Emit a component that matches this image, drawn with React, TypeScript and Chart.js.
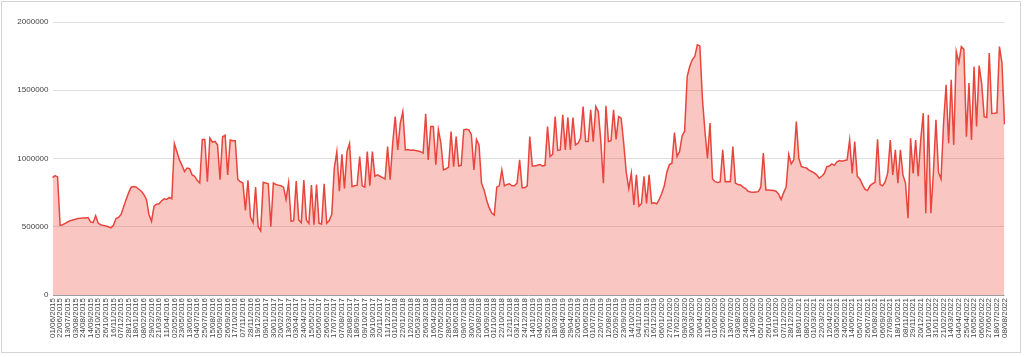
import React, { useEffect, useRef } from "react";
import { Chart, registerables } from "chart.js";

Chart.register(...registerables);

// Tick labels shown on the x axis (every 3rd weekly point)
const tickLabels: string[] = [
  "01/06/2015", "22/06/2015", "13/07/2015", "03/08/2015", "24/08/2015", "14/09/2015", "05/10/2015", "26/10/2015", "16/11/2015", "07/12/2015",
  "28/12/2015", "18/01/2016", "08/02/2016", "29/02/2016", "21/03/2016", "11/04/2016", "02/05/2016", "23/05/2016", "13/06/2016", "04/07/2016",
  "25/07/2016", "15/08/2016", "05/09/2016", "26/09/2016", "17/10/2016", "07/11/2016", "28/11/2016", "19/12/2016", "09/01/2017", "30/01/2017",
  "20/02/2017", "13/03/2017", "03/04/2017", "24/04/2017", "15/05/2017", "05/06/2017", "26/06/2017", "17/07/2017", "07/08/2017", "28/08/2017",
  "18/09/2017", "09/10/2017", "30/10/2017", "20/11/2017", "11/12/2017", "01/01/2018", "22/01/2018", "12/02/2018", "05/03/2018", "26/03/2018",
  "16/04/2018", "07/05/2018", "28/05/2018", "18/06/2018", "09/07/2018", "30/07/2018", "20/08/2018", "10/09/2018", "01/10/2018", "22/10/2018",
  "12/11/2018", "03/12/2018", "24/12/2018", "14/01/2019", "04/02/2019", "25/02/2019", "18/03/2019", "08/04/2019", "29/04/2019", "20/05/2019",
  "10/06/2019", "01/07/2019", "22/07/2019", "12/08/2019", "02/09/2019", "23/09/2019", "14/10/2019", "04/11/2019", "25/11/2019", "16/12/2019",
  "06/01/2020", "27/01/2020", "17/02/2020", "09/03/2020", "30/03/2020", "20/04/2020", "11/05/2020", "01/06/2020", "22/06/2020", "13/07/2020",
  "03/08/2020", "24/08/2020", "14/09/2020", "05/10/2020", "26/10/2020", "16/11/2020", "07/12/2020", "28/12/2020", "18/01/2021", "08/02/2021",
  "01/03/2021", "22/03/2021", "12/04/2021", "03/05/2021", "24/05/2021", "14/06/2021", "05/07/2021", "26/07/2021", "16/08/2021", "06/09/2021",
  "27/09/2021", "18/10/2021", "08/11/2021", "29/11/2021", "20/12/2021", "10/01/2022", "31/01/2022", "21/02/2022", "14/03/2022", "04/04/2022",
  "25/04/2022", "16/05/2022", "06/06/2022", "27/06/2022", "18/07/2022", "08/08/2022",
];

// Weekly values, 01/06/2015 .. 08/08/2022 (376 points)
const values: number[] = [
  860000, 875000, 865000, 510000, 515000, 525000, 535000, 545000, 550000, 555000,
  560000, 562000, 565000, 565000, 568000, 535000, 530000, 580000, 525000, 515000,
  510000, 505000, 500000, 492000, 510000, 560000, 568000, 590000, 645000, 700000,
  750000, 790000, 795000, 790000, 775000, 760000, 735000, 700000, 590000, 540000,
  650000, 665000, 668000, 690000, 705000, 700000, 715000, 705000, 1110000, 1050000,
  990000, 950000, 905000, 930000, 925000, 880000, 870000, 840000, 820000, 1140000,
  1140000, 830000, 1150000, 1120000, 1125000, 1100000, 845000, 1160000, 1170000, 880000,
  1135000, 1130000, 1130000, 845000, 830000, 820000, 620000, 840000, 570000, 530000,
  790000, 500000, 470000, 826000, 820000, 815000, 500000, 820000, 810000, 805000,
  800000, 790000, 700000, 823000, 540000, 545000, 835000, 550000, 530000, 843000,
  550000, 525000, 806000, 515000, 810000, 525000, 520000, 815000, 525000, 545000,
  590000, 930000, 1050000, 760000, 1030000, 780000, 1050000, 1110000, 794000, 800000,
  805000, 1014000, 800000, 790000, 1050000, 800000, 1050000, 870000, 880000, 870000,
  860000, 850000, 1087000, 845000, 1112000, 1307000, 1063000, 1259000, 1344000, 1063000,
  1065000, 1060000, 1062000, 1058000, 1055000, 1050000, 1040000, 1327000, 990000, 1234000,
  1234000, 955000, 1210000, 1112000, 916000, 925000, 935000, 1197000, 940000, 1160000,
  945000, 950000, 1210000, 1215000, 1210000, 1175000, 916000, 1140000, 1100000, 819000,
  770000, 696000, 640000, 600000, 586000, 790000, 800000, 916000, 800000, 810000,
  815000, 800000, 800000, 820000, 990000, 785000, 785000, 800000, 1160000, 945000,
  945000, 950000, 955000, 945000, 950000, 1234000, 1014000, 1030000, 1307000, 1060000,
  1063000, 1320000, 1063000, 1300000, 1063000, 1300000, 1100000, 1112000, 1149000, 1381000,
  1124000, 1124000, 1356000, 1124000, 1381000, 1344000, 1124000, 819000, 1386000, 1124000,
  1130000, 1356000, 1140000, 1307000, 1295000, 1112000, 900000, 780000, 892000, 660000,
  880000, 650000, 670000, 870000, 670000, 880000, 672000, 675000, 668000, 700000,
  745000, 800000, 900000, 955000, 965000, 1190000, 1015000, 1050000, 1165000, 1200000,
  1600000, 1674000, 1723000, 1747000, 1833000, 1825000, 1440000, 1200000, 1000000, 1259000,
  850000, 830000, 825000, 828000, 1063000, 830000, 832000, 830000, 1087000, 820000,
  810000, 806000, 790000, 780000, 760000, 755000, 752000, 755000, 757000, 790000,
  1039000, 770000, 770000, 768000, 765000, 760000, 740000, 700000, 750000, 790000,
  1030000, 960000, 990000, 1271000, 1000000, 941000, 935000, 930000, 915000, 905000,
  895000, 880000, 855000, 870000, 890000, 940000, 945000, 960000, 950000, 975000,
  985000, 980000, 985000, 990000, 1136000, 890000, 1124000, 870000, 850000, 810000,
  775000, 765000, 800000, 815000, 825000, 1141000, 810000, 800000, 830000, 895000,
  1136000, 880000, 1063000, 820000, 1063000, 880000, 820000, 562000, 1149000, 890000,
  1136000, 870000, 1136000, 1332000, 599000, 1320000, 599000, 900000, 1283000, 900000,
  850000, 1259000, 1540000, 1112000, 1576000, 1100000, 1784000, 1700000, 1820000, 1800000,
  1160000, 1552000, 1136000, 1674000, 1234000, 1680000, 1550000, 1307000, 1300000, 1772000,
  1330000, 1332000, 1335000, 1820000, 1700000, 1250000,
];

const yTicks: number[] = [0, 500000, 1000000, 1500000, 2000000];

const categories: string[] = values.map((_, i) => (i % 3 === 0 ? tickLabels[i / 3] ?? "" : ""));

export default function App() {
  const canvasRef = useRef<HTMLCanvasElement | null>(null);

  useEffect(() => {
    const canvas = canvasRef.current;
    if (!canvas) return;
    const chart = new Chart(canvas, {
      type: "line",
      data: {
        labels: categories,
        datasets: [
          {
            data: values,
            borderColor: "#e8453c",
            borderWidth: 1.5,
            backgroundColor: "rgba(234, 67, 53, 0.3)",
            fill: "origin",
            pointRadius: 0,
            pointHoverRadius: 0,
            tension: 0,
          },
        ],
      },
      options: {
        animation: false,
        responsive: false,
        maintainAspectRatio: false,
        events: [],
        layout: { padding: { left: 0, right: 19.5, top: 22, bottom: 0 } },
        plugins: {
          legend: { display: false },
          tooltip: { enabled: false },
        },
        scales: {
          x: {
            type: "category",
            offset: false,
            grid: { display: false, drawTicks: false },
            border: { display: false },
            ticks: {
              autoSkip: false,
              minRotation: 90,
              maxRotation: 90,
              padding: 3,
              color: "#444",
              font: { family: "Arial, 'Liberation Sans', sans-serif", size: 8 },
            },
            afterFit: (s: any) => {
              s.height = 62;
            },
          },
          y: {
            min: 0,
            max: 2000000,
            afterBuildTicks: (s: any) => {
              s.ticks = yTicks.map((v) => ({ value: v }));
            },
            grid: {
              drawTicks: false,
              color: (ctx: any) => (ctx.tick && ctx.tick.value === 0 ? "#9e9e9e" : "#e0e0e0"),
              lineWidth: 1,
            },
            border: { display: false },
            ticks: {
              padding: 4,
              color: "#444",
              font: { family: "Arial, 'Liberation Sans', sans-serif", size: 8 },
              callback: (v: any) => String(v),
            },
            afterFit: (s: any) => {
              s.width = 52.5;
            },
          },
        },
      },
    });
    return () => chart.destroy();
  }, []);

  return (
    <div style={{ position: "absolute", left: 0, top: 0, width: 1024, height: 357, background: "#fff" }}>
      <div
        style={{
          position: "absolute",
          left: 1,
          top: 1,
          width: 1020,
          height: 352,
          border: "1px solid #d4d4d4",
          boxSizing: "border-box",
        }}
      />
      <canvas ref={canvasRef} width={1024} height={357} style={{ position: "absolute", left: 0, top: 0 }} />
    </div>
  );
}
